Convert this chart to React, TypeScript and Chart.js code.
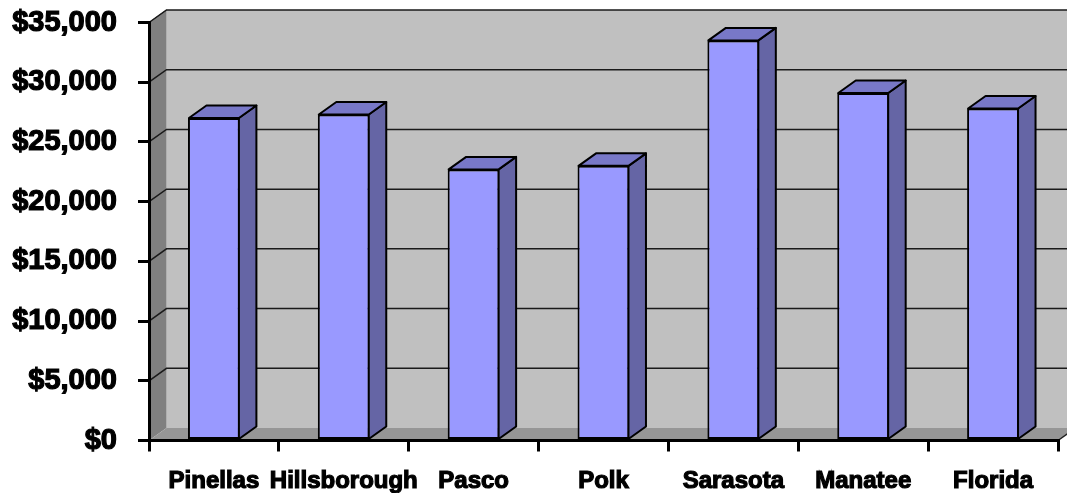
import React, { useEffect, useRef } from 'react';
import { Chart, registerables } from 'chart.js';

Chart.register(...registerables);

// ---- data ----
const categories: string[] = ['Pinellas', 'Hillsborough', 'Pasco', 'Polk', 'Sarasota', 'Manatee', 'Florida'];
const incomeValues: number[] = [27000, 27300, 22700, 23000, 33500, 29100, 27800];
const yMin = 0;
const yMax = 35000;
const yStep = 5000;

// ---- 3D look ----
const DX = 17.5;
const DY = -12.5;
const BACK_WALL = '#C0C0C0';
const SIDE_WALL = '#808080';
const FLOOR = '#969696';
const BAR_FRONT = '#9999FF';
const BAR_SIDE = '#6565A5';
const BAR_TOP = '#7878C8';

const poly = (ctx: CanvasRenderingContext2D, pts: number[][]) => {
  ctx.beginPath();
  ctx.moveTo(pts[0][0], pts[0][1]);
  for (let i = 1; i < pts.length; i++) ctx.lineTo(pts[i][0], pts[i][1]);
  ctx.closePath();
};

const threeD = {
  id: 'threeD',
  beforeDraw(chart: any) {
    const { ctx, chartArea: a, scales } = chart;
    const y = scales.y;
    ctx.save();
    // back wall
    ctx.fillStyle = BACK_WALL;
    ctx.fillRect(a.left + DX, a.top + DY, a.right - a.left + 20, a.bottom - a.top);
    // side wall
    poly(ctx, [[a.left, a.top], [a.left + DX, a.top + DY], [a.left + DX, a.bottom + DY], [a.left, a.bottom]]);
    ctx.fillStyle = SIDE_WALL;
    ctx.fill();
    ctx.strokeStyle = '#505050';
    ctx.lineWidth = 1;
    ctx.beginPath();
    ctx.moveTo(a.left, a.top);
    ctx.lineTo(a.left + DX, a.top + DY);
    ctx.stroke();
    // floor
    poly(ctx, [[a.left, a.bottom], [a.left + DX, a.bottom + DY], [a.right + DX, a.bottom + DY], [a.right, a.bottom]]);
    ctx.fillStyle = FLOOR;
    ctx.fill();
    ctx.strokeStyle = '#202020';
    ctx.lineWidth = 1.5;
    ctx.beginPath();
    ctx.moveTo(a.right, a.bottom);
    ctx.lineTo(a.right + DX, a.bottom + DY);
    ctx.stroke();
    // gridlines on side & back wall
    ctx.strokeStyle = '#1a1a1a';
    ctx.lineWidth = 1.5;
    y.ticks.forEach((t: any) => {
      if (t.value <= yMin) return;
      const py = y.getPixelForValue(t.value);
      ctx.beginPath();
      ctx.moveTo(a.left, py);
      ctx.lineTo(a.left + DX, py + DY);
      ctx.lineTo(a.right + DX + 20, py + DY);
      ctx.stroke();
    });
    ctx.restore();
  },
  afterDatasetsDraw(chart: any) {
    const { ctx } = chart;
    const meta = chart.getDatasetMeta(0);
    ctx.save();
    ctx.lineJoin = 'round';
    meta.data.forEach((bar: any) => {
      const { x, y, base, width } = bar.getProps(['x', 'y', 'base', 'width'], true);
      const l = x - width / 2 + 1;
      const r = x + width / 2 - 1;
      // side face
      poly(ctx, [[r, y], [r + DX, y + DY], [r + DX, base + DY], [r, base]]);
      ctx.fillStyle = BAR_SIDE;
      ctx.fill();
      ctx.strokeStyle = '#000';
      ctx.lineWidth = 2;
      ctx.stroke();
      // top face
      poly(ctx, [[l, y], [l + DX, y + DY], [r + DX, y + DY], [r, y]]);
      ctx.fillStyle = BAR_TOP;
      ctx.fill();
      ctx.stroke();
    });
    ctx.restore();
  },
};

const fontFamily = '"Liberation Sans", Arial, Helvetica, sans-serif';

export default function App() {
  const canvasRef = useRef<HTMLCanvasElement | null>(null);

  useEffect(() => {
    document.body.style.margin = '0';
    const canvas = canvasRef.current;
    if (!canvas) return;
    const chart = new Chart(canvas, {
      type: 'bar',
      data: {
        labels: categories,
        datasets: [
          {
            data: incomeValues,
            backgroundColor: BAR_FRONT,
            borderColor: '#000',
            borderWidth: 2,
            borderSkipped: false,
            categoryPercentage: 1,
            barPercentage: 0.4,
          },
        ],
      },
      options: {
        animation: false,
        responsive: true,
        maintainAspectRatio: false,
        devicePixelRatio: 1,
        layout: { padding: { top: 22.5, right: 9, left: 0, bottom: 0 } },
        plugins: {
          legend: { display: false },
          tooltip: { enabled: false },
        },
        scales: {
          x: {
            type: 'category',
            afterFit: (s: any) => {
              s.height = 52.5;
              s.paddingLeft = 0;
              s.paddingRight = 0;
            },
            grid: {
              offset: true,
              drawOnChartArea: false,
              drawTicks: true,
              tickLength: 11,
              color: '#000',
              lineWidth: 3,
            },
            border: { display: true, color: '#000', width: 3 },
            ticks: {
              color: '#000',
              font: { family: fontFamily, size: 24, weight: 'bold' },
              textStrokeColor: '#000',
              textStrokeWidth: 1.2,
              padding: 15,
              maxRotation: 0,
              autoSkip: false,
            },
          },
          y: {
            min: yMin,
            max: yMax,
            afterFit: (s: any) => {
              s.width = 149;
              s.paddingTop = 0;
              s.paddingBottom = 0;
            },
            grid: {
              drawOnChartArea: false,
              drawTicks: true,
              tickLength: 11,
              color: '#000',
              lineWidth: 3,
            },
            border: { display: true, color: '#000', width: 3 },
            ticks: {
              stepSize: yStep,
              color: '#000',
              padding: 21,
              font: { family: fontFamily, size: 29, weight: 'bold' },
              textStrokeColor: '#000',
              textStrokeWidth: 1.2,
              callback: (v: any) => '$' + Number(v).toLocaleString('en-US'),
            },
          },
        },
      },
      plugins: [threeD],
    } as any);
    return () => chart.destroy();
  }, []);

  return (
    <div style={{ width: '1067px', height: '493px', position: 'relative' }}>
      <canvas ref={canvasRef} />
    </div>
  );
}
